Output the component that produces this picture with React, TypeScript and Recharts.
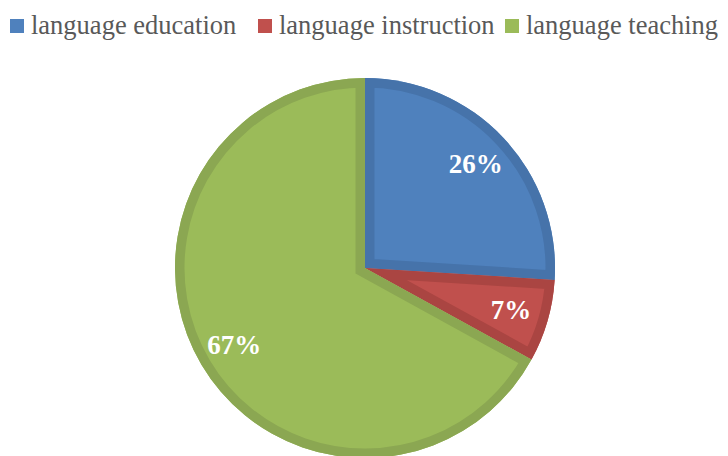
import { PieChart, Pie, Cell, Sector } from 'recharts'

const categories = ['language education', 'language instruction', 'language teaching']
const shares = [26, 7, 67]
const fills = ['#4F81BD', '#C0504D', '#9BBB59']
const borders = ['#4673AA', '#AA4542', '#8BA752']
const legendLeft = [10, 258, 505]

const data = categories.map((name, i) => ({ name, value: shares[i] }))

const RADIAN = Math.PI / 180
const serif = '"Liberation Serif", "Times New Roman", Times, serif'

const renderSlice = (props: any) => {
  const { cx, cy, innerRadius, outerRadius, startAngle, endAngle, midAngle, index, percent } = props
  const r = outerRadius * 0.8
  const x = cx + r * Math.cos(-midAngle * RADIAN)
  const y = cy + r * Math.sin(-midAngle * RADIAN)
  const id = `slice-clip-${index}`
  return (
    <g>
      <defs>
        <clipPath id={id}>
          <Sector cx={cx} cy={cy} innerRadius={innerRadius} outerRadius={outerRadius} startAngle={startAngle} endAngle={endAngle} />
        </clipPath>
      </defs>
      <Sector
        cx={cx}
        cy={cy}
        innerRadius={innerRadius}
        outerRadius={outerRadius}
        startAngle={startAngle}
        endAngle={endAngle}
        fill="none"
        stroke={borders[index]}
        strokeWidth={19}
        clipPath={`url(#${id})`}
      />
      <text
        x={x}
        y={y}
        fill="#fff"
        textAnchor="middle"
        dominantBaseline="central"
        style={{ fontFamily: serif, fontSize: 27, fontWeight: 700 }}
      >
        {`${Math.round(percent * 100)}%`}
      </text>
    </g>
  )
}

export default function App() {
  return (
    <div style={{ position: 'absolute', left: 0, top: 0, width: 728, height: 456, background: '#fff', overflow: 'hidden' }}>
      {categories.map((c, i) => (
        <div
          key={c}
          style={{
            position: 'absolute',
            left: legendLeft[i],
            top: 10,
            display: 'flex',
            alignItems: 'center',
            fontFamily: serif,
            fontSize: 26.5,
            color: '#595959',
            whiteSpace: 'nowrap',
          }}
        >
          <span style={{ display: 'inline-block', width: 14, height: 14, background: fills[i], marginRight: 7 }} />
          <span>{c}</span>
        </div>
      ))}
      <PieChart width={728} height={456} margin={{ top: 0, right: 0, bottom: 0, left: 0 }} style={{ position: 'absolute', left: 0, top: 0 }}>
        <Pie
          data={data}
          dataKey="value"
          nameKey="name"
          cx={365}
          cy={268}
          outerRadius={190}
          startAngle={90}
          endAngle={-270}
          stroke="none"
          labelLine={false}
          label={renderSlice}
          isAnimationActive={false}
        >
          {data.map((entry, index) => (
            <Cell key={`cell-${index}`} fill={fills[index]} />
          ))}
        </Pie>
      </PieChart>
    </div>
  )
}
